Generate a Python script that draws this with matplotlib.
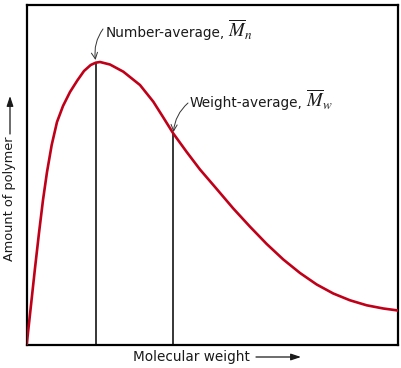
import matplotlib
matplotlib.use('Agg')
import matplotlib.pyplot as plt
import numpy as np

plt.rcParams['mathtext.fontset'] = 'stix'
plt.rcParams['font.family'] = ['DejaVu Sans']

# Molecular weight (arbitrary units) and amount of polymer
mol_weight = [0.0, 1.16, 2.24, 3.31, 4.39, 5.47, 6.73, 8.16, 9.78, 11.66, 13.63,
              15.43, 17.24, 18.58, 19.74, 22.43, 26.02, 30.51, 34.10, 36.71,
              39.48, 43.09, 46.67, 51.17, 55.64, 60.14, 64.64, 69.11, 73.61,
              78.10, 82.57, 87.07, 91.57, 96.04, 100.0]
amount = [0.0, 11.62, 22.5, 32.79, 42.5, 50.74, 58.68, 65.44, 70.15, 74.26, 77.65,
          80.44, 82.21, 82.88, 83.09, 82.35, 80.24, 76.32, 71.41, 66.91,
          62.06, 56.62, 51.47, 45.74, 40.0, 34.65, 29.56, 25.0, 21.03,
          17.65, 15.0, 13.0, 11.53, 10.59, 10.0]

mn_x = 18.55   # number-average
mw_x = 39.5    # weight-average

text_color = '#1a1a1a'
fs = 9.8

fig = plt.figure(figsize=(4.01, 3.68), dpi=100)
ax = fig.add_axes([26.7 / 401, 23.5 / 368, 371.3 / 401, 340 / 368])

ax.plot(mol_weight, amount, color='#C00018', linewidth=1.9,
        solid_capstyle='round', solid_joinstyle='round', zorder=3)

for xv in (mn_x, mw_x):
    ax.plot([xv, xv], [0, np.interp(xv, mol_weight, amount)],
            color='black', linewidth=1.1, zorder=2)

ax.set_xlim(0, 100)
ax.set_ylim(0, 100)
ax.set_xticks([])
ax.set_yticks([])
for sp in ax.spines.values():
    sp.set_linewidth(1.6)


def label_with_symbol(x, y, word, sym):
    # word in the sans font, the symbol in italic serif right after it
    t = fig.text(x / 401, y / 368, word, fontsize=fs, color=text_color,
                 ha='left', va='baseline')
    fig.canvas.draw()
    bb = t.get_window_extent()
    fig.text((bb.x1 + 3) / 401, y / 368, sym, fontsize=13.5, color=text_color,
             ha='left', va='baseline')


label_with_symbol(105.5, 368 - 37, 'Number-average,', r'$\overline{M}_n$')
label_with_symbol(190.0, 368 - 107, 'Weight-average,', r'$\overline{M}_w$')

arrow_kw = dict(arrowstyle='->,head_length=0.45,head_width=0.22', color='#333333',
                linewidth=0.7, shrinkA=0, shrinkB=0)
ax.annotate('', xy=(95.5, 368 - 60), xycoords='figure pixels',
            xytext=(103, 368 - 29), textcoords='figure pixels',
            arrowprops=dict(connectionstyle='arc3,rad=0.2', **arrow_kw))
ax.annotate('', xy=(173.5, 368 - 132), xycoords='figure pixels',
            xytext=(188, 368 - 103), textcoords='figure pixels',
            arrowprops=dict(connectionstyle='arc3,rad=0.2', **arrow_kw))

# axis labels with long arrows
fig.text(133 / 401, (368 - 357) / 368, 'Molecular weight', fontsize=fs,
         color=text_color, ha='left', va='center')
ax.annotate('', xy=(301, 368 - 357), xycoords='figure pixels',
            xytext=(256, 368 - 357), textcoords='figure pixels',
            arrowprops=dict(arrowstyle='-|>,head_length=0.6,head_width=0.2',
                            color=text_color, linewidth=0.9, shrinkA=0, shrinkB=0))
fig.text(10 / 401, (368 - 261) / 368, 'Amount of polymer', fontsize=9.3,
         color=text_color, ha='center', va='bottom', rotation=90)
ax.annotate('', xy=(10, 368 - 96), xycoords='figure pixels',
            xytext=(10, 368 - 134), textcoords='figure pixels',
            arrowprops=dict(arrowstyle='-|>,head_length=0.6,head_width=0.2',
                            color=text_color, linewidth=0.9, shrinkA=0, shrinkB=0))

fig.savefig('out.png', dpi=100, facecolor='white')
